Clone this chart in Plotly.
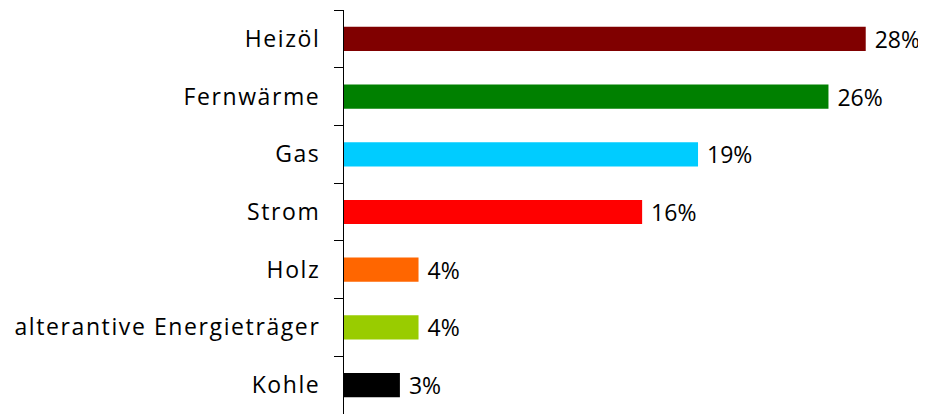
import plotly.graph_objects as go

categories = ["Heizöl", "Fernwärme", "Gas", "Strom", "Holz", "alterantive Energieträger", "Kohle"]
values = [28, 26, 19, 16, 4, 4, 3]
labels = ["28%", "26%", "19%", "16%", "4%", "4%", "3%"]
colors = ["#800000", "#008000", "#00CCFF", "#FF0000", "#FF6600", "#99CC00", "#000000"]

FONT = "Open Sans"
FS = 23

fig = go.Figure(go.Bar(
    y=categories, x=values, orientation="h",
    marker=dict(color=colors, line=dict(width=0)),
    text=[" " + t for t in labels], textposition="outside",
    textfont=dict(size=FS, color="black", family=FONT),
    constraintext="none",
    cliponaxis=False,
    width=0.42,
))

fig.update_layout(
    width=926, height=414,
    margin=dict(l=336, r=31, t=2, b=8, autoexpand=False),
    paper_bgcolor="white", plot_bgcolor="white",
    font=dict(family=FONT, size=FS, color="black"),
    showlegend=False,
    xaxis=dict(range=[0, 30], visible=False, showgrid=False, zeroline=False, automargin=False),
    yaxis=dict(
        categoryorder="array", categoryarray=categories[::-1],
        showline=True, linecolor="black", linewidth=1,
        ticks="outside", tickson="boundaries", ticklen=9, tickcolor="black",
        ticklabelstandoff=18,
        showgrid=False, tickfont=dict(size=FS, family=FONT), automargin=False,
    ),
)

post = "document.querySelectorAll('.ytick text').forEach(function(t){t.style.letterSpacing='1.6px';});"
fig.write_html("out.html", post_script=post)
